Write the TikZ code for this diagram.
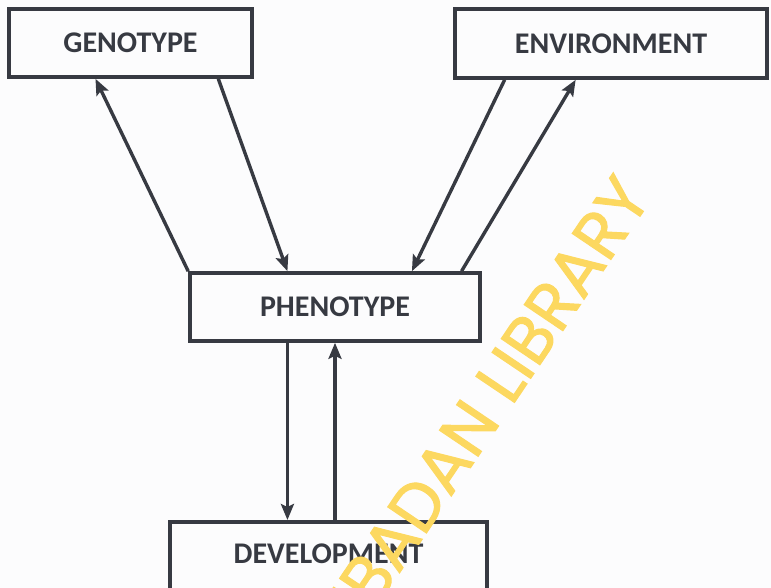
\documentclass[tikz,border=0pt]{standalone}
\usepackage{fontspec}
\newfontfamily\boxfont{Carlito}
\newfontfamily\markfont[FakeBold=1.5]{Poppins}
\usetikzlibrary{calc,arrows.meta}

\definecolor{ink}{RGB}{55,58,66}
\definecolor{paper}{RGB}{252,252,253}
\definecolor{stamp}{RGB}{252,216,96}

\tikzset{
  boxnode/.style={draw=ink,line width=3.6pt,text=ink,inner sep=0pt,
    font=\boxfont\bfseries\fontsize{30}{32}\selectfont},
  link/.style={draw=ink,line width=3.4pt,-{Stealth[length=16pt,width=13pt,inset=3pt]}},
  stamptext/.style={text=stamp,font=\markfont\fontsize{67}{70}\selectfont,inner sep=0pt}
}

\begin{document}
\begin{tikzpicture}[x=1pt,y=-1pt]

\useasboundingbox [fill=paper] (0,0) rectangle (771,588);

\node [boxnode,minimum width=243pt,minimum height=68pt] (geno) at (130.5,43) {GENOTYPE};
\node [boxnode,minimum width=312pt,minimum height=69pt] (envi) at (611,43.5) {ENVIRONMENT};
\node [boxnode,minimum width=290pt,minimum height=68pt] (pheno) at (335,307) {PHENOTYPE};
\node [boxnode,anchor=north,minimum width=317pt,text height=42pt,text depth=40pt] (devel) at (328.5,520) {DEVELOPMENT};

% genotype <-> phenotype
\draw [link] (pheno.north west) -- ($(geno.south west)!0.358!(geno.south east)$);
\draw [link] ($(geno.south west)!0.856!(geno.south east)$) -- ($(pheno.north west)!0.338!(pheno.north east)$);

% environment <-> phenotype
\draw [link] ($(envi.south west)!0.163!(envi.south east)$) -- ($(pheno.north west)!0.762!(pheno.north east)$);
\draw [link] ($(pheno.north west)!0.931!(pheno.north east)$) -- ($(envi.south west)!0.388!(envi.south east)$);

% phenotype <-> development
\coordinate (down) at ($(pheno.south west)!0.338!(pheno.south east)$);
\draw [link] (down) -- (down |- devel.north);
\draw [link] (pheno.south |- devel.north) -- (pheno.south);

\node [stamptext,rotate=56] (mark) at (490,397) {IBADAN LIBRARY};

\end{tikzpicture}
\end{document}
